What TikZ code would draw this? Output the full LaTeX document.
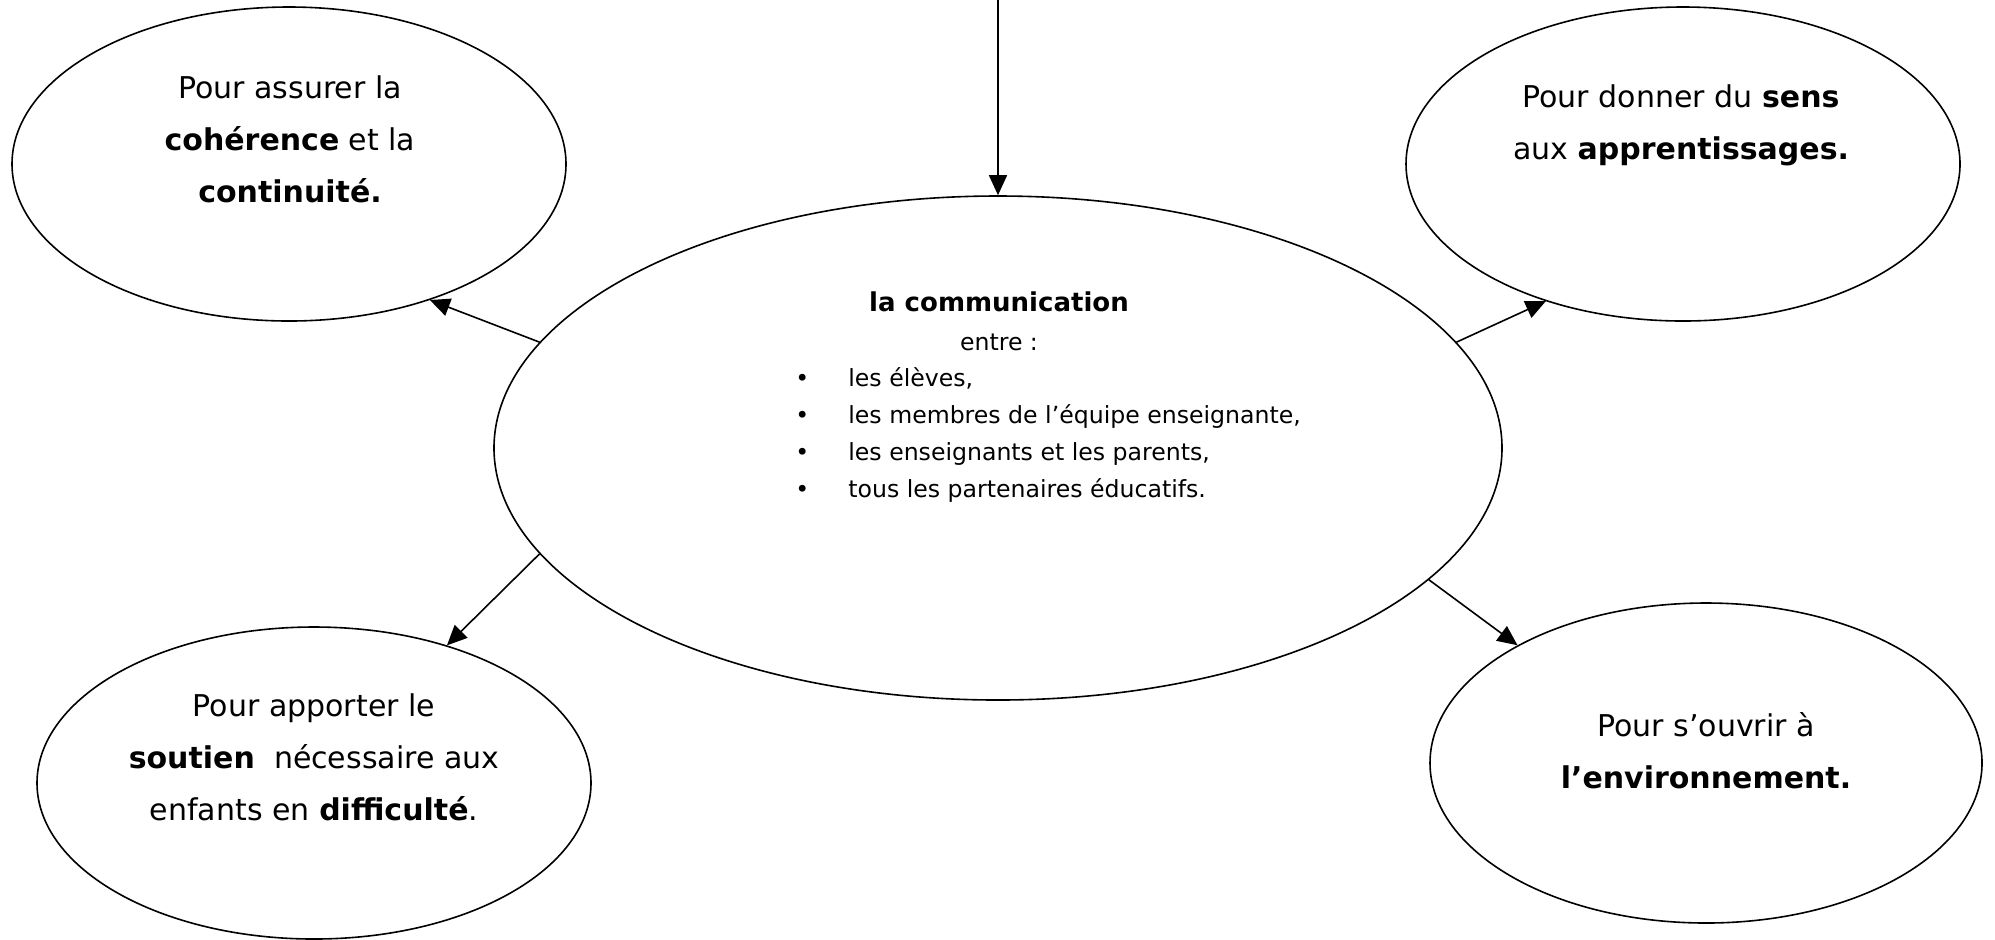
\documentclass[tikz,border=0pt]{standalone}
\usepackage{fontspec}
\setmainfont{DejaVu Sans}
\usetikzlibrary{shapes.geometric,arrows.meta}

\begin{document}
\begin{tikzpicture}
  [x=0.5pt,y=-0.5pt,every node/.style={inner sep=0pt}]
 \tikzset{bulle/.style={ellipse,draw,line width=0.8pt},
   EdgeStyle/.style={-{Triangle[length=10pt,width=9pt]},line width=0.8pt},
   grand/.style={align=center,font=\fontsize{15}{26}\selectfont},
   petit/.style={font=\fontsize{11.8}{18.5}\selectfont}}
 \useasboundingbox (0,0) rectangle (1995,939);

  % les bulles
  \node[bulle,minimum width=504pt,minimum height=252pt] (c) at (998,448) {};
  \node[bulle,minimum width=277pt,minimum height=157pt] (hg) at (289,164) {};
  \node[bulle,minimum width=277pt,minimum height=157pt] (hd) at (1683,164) {};
  \node[bulle,minimum width=277pt,minimum height=156pt] (bg) at (314,783) {};
  \node[bulle,minimum width=276pt,minimum height=160pt] (bd) at (1706,763) {};
  \coordinate (haut) at (998,0);

  % les textes
  \node[font=\fontsize{13}{15}\selectfont\bfseries] (titre) at (999,302) {la communication};
  \node[petit] (entre) at (999,342) {entre :};
  \node[petit,align=left,anchor=west] (liste) at (795,435)
    {\makebox[26.5pt][l]{•}les élèves,\\
     \makebox[26.5pt][l]{•}les membres de l’équipe enseignante,\\
     \makebox[26.5pt][l]{•}les enseignants et les parents,\\
     \makebox[26.5pt][l]{•}tous les partenaires éducatifs.};
  \node[grand] (thg) at (290,139) {Pour assurer la\\ \textbf{cohérence} et la\\ \textbf{continuité.}};
  \node[grand] (thd) at (1681,125) {Pour donner du \textbf{sens}\\ aux \textbf{apprentissages.}};
  \node[grand] (tbg) at (314,757) {Pour apporter le\\ \textbf{soutien}~ nécessaire aux\\ enfants en \textbf{difficulté}.};
  \node[grand] (tbd) at (1706,751) {Pour s’ouvrir à\\ \textbf{l’environnement.}};

 \foreach \from/\to in {haut/c.north,c.167/hg.-44,c.13/hd.225,c.193/bg.46,c.343/bd.148}
    \draw[EdgeStyle] (\from) -- (\to);

\end{tikzpicture}
\end{document}
